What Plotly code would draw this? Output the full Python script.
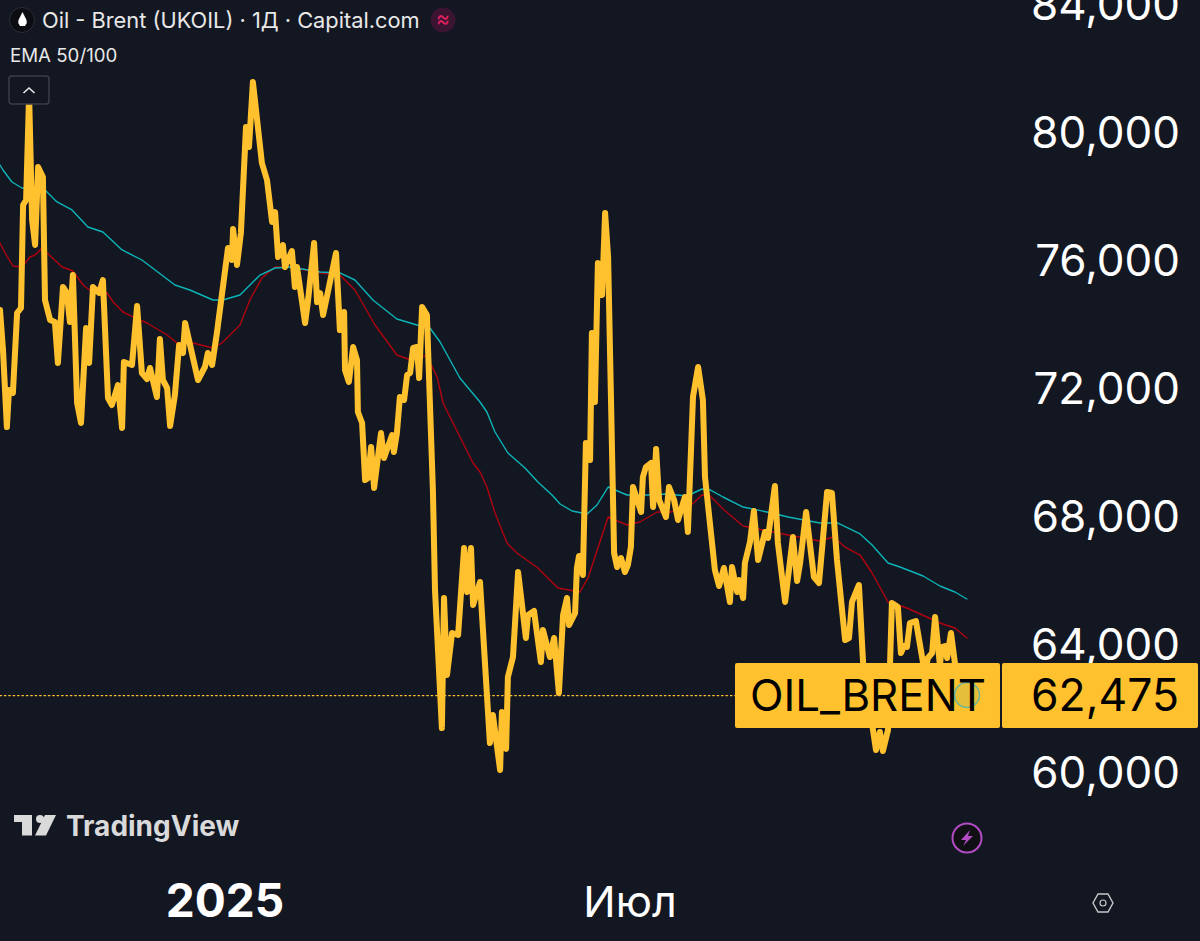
import plotly.graph_objects as go

W, H = 1200, 941
BG = "#131722"
YEL = "#FFC22E"
FONT = "Inter"

# x = bar number, price = close
close_bar = [0,1,2.3,3,4.3,5.7,7,7.7,8.7,9.7,10.7,11.7,12.7,14.3,15,16.7,18.3,19.3,21,22.3,23.3,24.3,25.7,27,28.7,29.7,31,33,34.3,36,37.3,39.3,40.7,41.3,44,45.7,47.3,49,50,52.3,53.3,54.3,55.7,56.7,58.3,59.7,61,61.7,66,68.3,69.3,70.7,72.3,74,75,76,77.3,77.7,79,80.3,82,83,84.3,86,87.3,89,90.7,91.7,92.7,94.3,95,97.3,98.3,99,101.7,102.7,104.7,105.7,106.7,107.7,112,113.3,114.7,115,116.3,117.7,119,119.3,120.7,121.7,122.7,123.7,124.7,127,128,130.7,131.3,132.3,133.3,134.7,135.7,136.7,137.7,139,139.7,140.7,142.3,144.3,145,147.3,148,149,150.7,152.7,154.7,155.7,157,157.7,160,163.3,164.3,166.7,167.3,168.7,169.3,171,172.7,175.3,176,178,180.3,181,183.3,184.7,186.3,187.7,189,189.7,191.7,192.3,193,194.3,195.3,196.7,197.3,198.3,199.3,200.7,201.7,202.7,204,204.7,205.7,207,208.3,209.3,210.3,211,213.7,214.3,215.3,217,217.7,218.7,219.7,222,223,224.7,226,228.3,229.3,231,232.7,234.3,235,235.7,237.3,238.3,239.7,241.3,243.3,244,245.7,246.3,247.7,248.3,250,251.3,252.7,255,256,258.3,259.3,261.7,264.3,265.7,266.7,268.7,271.3,273,275.7,277.3,279,281.7,283,284,286.3,287.7,291,292,293.3,294.3,296,296.7,297.3,299.3,300.3,301.3,302.3,303.3,305.3,307.7,308.3,309.3,310.7,311.7,313.3,314,315,315.7,317,318.3,322]
close_price = [74469,73219,70812,71969,71875,74375,74531,77750,77906,81187,77281,76500,78937,78625,74781,74156,74094,72812,75187,75000,74094,75562,71562,70937,73906,72812,75187,75000,75406,71719,71500,72125,70781,72844,72750,74594,72500,72312,72656,71750,73562,72281,72031,70844,71812,73375,73125,74062,72281,72687,73125,72750,73750,75094,75937,76406,76031,77000,75875,76875,80187,79562,81594,80187,79062,78531,77219,77531,76125,76500,75812,76312,75187,75812,74062,74781,76562,74719,75000,74312,76250,73844,74406,72594,72219,73312,72906,71281,70937,69156,69219,70187,68906,70625,69844,70562,70031,70625,71750,71656,72437,72500,73281,73312,72344,74562,74312,68844,65719,61406,65469,63062,64375,64312,67031,65656,67031,65250,65969,60937,61812,60094,61906,60750,63000,63625,66281,64219,64937,65062,63469,64469,63625,64219,62500,64937,65469,64625,65000,66406,66781,66187,70312,69781,73750,71594,75937,74937,77500,76125,69562,66875,66437,66719,66281,66500,67062,68937,68156,69250,69562,69687,68312,70125,68531,68000,68937,68531,67906,68625,67531,71750,72687,71656,69250,68531,66969,66344,65844,66406,65344,66437,65656,66031,65469,66562,67219,68187,66656,67531,67344,68969,67187,65344,67375,66000,66562,68156,66125,65937,68781,68750,66656,64156,64219,65344,65875,63437,61344,60719,61281,60687,61344,63437,65312,65187,63750,63969,63937,64687,64750,63437,63156,63594,63750,64875,63375,63937,63969,63594,64375,63437,62420]

ema100_bar = [0,1,4,7.3,15,19,24,29.3,34.3,40.7,47.3,58.3,63.3,71,74.3,80,86.7,91.7,96.7,106.7,113.3,118.3,124.3,132.3,139,143.3,146.7,153.3,160,162.3,165,169.3,175,179.3,184,186.7,190.7,195.7,199,202.7,209,215.7,222.3,229,234,236.7,241,247.7,255.7,262.7,273.3,279.3,286.7,290.7,296,300,307.7,313.3,318.3,322.3]
ema100_price = [79000,78844,78469,78281,78219,77844,77594,77062,76906,76344,76031,75250,75094,74781,74781,74937,75562,75781,75812,75656,75625,75406,74781,74187,74000,73906,73469,72344,71594,71281,70656,70000,69531,69094,68687,68406,68187,68094,68375,68937,68687,68687,68719,68656,68875,68844,68625,68312,68156,68000,67812,67812,67469,67125,66562,66437,66156,65844,65656,65437]

ema50_bar = [0,1.7,4.3,7.3,10,11.7,14,17.7,20.7,24.3,27.7,30.7,35.7,37.7,41,44.3,49,55.7,59,64.3,71,74,80,83.3,87.3,91.7,96.7,106.7,113.3,118.3,125,132.3,136,142.3,145.7,147.7,152.3,157.7,160,162.3,165,169,172.3,179.3,186,193.3,196,200,202.7,209,213.3,219,223.3,229.3,234,236.7,241,247.7,255.7,262.7,273.3,277.7,281.7,286.7,290.7,296,302.3,307.7,313.3,318.3,322.3]
ema50_price = [76562,76250,75844,75812,76125,76187,76406,76094,75812,75687,75250,75031,75000,74719,74406,74250,74062,73687,73437,73437,73281,73437,74000,74781,75469,75812,75812,75625,75562,75094,74000,73062,72937,73031,72375,71562,70719,69687,69406,68937,68125,67187,66875,66406,65781,65656,66094,67219,68000,67750,67844,68156,68156,68281,68687,68656,68250,67719,67562,67437,67250,67375,67062,66812,66250,65344,65156,64937,64687,64531,64219]

last_price = [62420, 62420]
last_bar = [0, 322]

price_ticks = [60000, 64000, 68000, 72000, 76000, 80000, 84000]
price_labels = ["60,000", "64,000", "68,000", "72,000", "76,000", "80,000", "84,000"]
time_ticks = [75, 210]
time_labels = ["<span style='font-size:46px'><b>2025</b></span>", "Июл"]

title_text = "Oil - Brent (UKOIL) · 1Д · Capital.com"
indicator_text = "EMA 50/100"
symbol_text = "OIL_BRENT"
last_label = "62,475"
brand_text = "TradingView"


def X(px):
    return px / W


def Y(py):
    return 1 - py / H


def P(a, b):
    return f"{X(a):.5f},{Y(b):.5f}"


def poly(points):
    return "M" + " L".join(P(a, b) for a, b in points) + " Z"


def rrect(x0, y0, x1, y1, r):
    return (f"M{P(x0 + r, y0)} L{P(x1 - r, y0)} Q{P(x1, y0)} {P(x1, y0 + r)} "
            f"L{P(x1, y1 - r)} Q{P(x1, y1)} {P(x1 - r, y1)} "
            f"L{P(x0 + r, y1)} Q{P(x0, y1)} {P(x0, y1 - r)} "
            f"L{P(x0, y0 + r)} Q{P(x0, y0)} {P(x0 + r, y0)} Z")


def paper(**kw):
    return dict(xref="paper", yref="paper", layer="above", **kw)


def circle(cx, cy, r, **kw):
    return paper(type="circle", x0=X(cx - r), x1=X(cx + r), y0=Y(cy - r), y1=Y(cy + r), **kw)


def note(text, px, py, size, color="#FFFFFF", anchor="left", family=FONT):
    return dict(text=text, x=X(px), y=Y(py), xref="paper", yref="paper", xanchor=anchor,
                yanchor="middle", showarrow=False, font=dict(family=family, size=size, color=color),
                borderpad=0)


fig = go.Figure()
fig.add_trace(go.Scatter(x=last_bar, y=last_price, mode="lines",
                         line=dict(color=YEL, width=1.3, dash="1.5px 2.9px"), hoverinfo="skip"))
fig.add_trace(go.Scatter(x=ema50_bar, y=ema50_price, mode="lines",
                         line=dict(color="#B0000F", width=1.4), hoverinfo="skip"))
fig.add_trace(go.Scatter(x=ema100_bar, y=ema100_price, mode="lines",
                         line=dict(color="#0CB4B8", width=1.4), hoverinfo="skip"))
fig.add_trace(go.Scatter(x=close_bar, y=close_price, mode="lines",
                         line=dict(color=YEL, width=6), hoverinfo="skip"))

shapes = [
    # header icons
    circle(22, 20, 12.5, fillcolor="#0B0D12", line=dict(color="#2A2E39", width=1)),
    paper(type="path", path=poly([(22.5, 12), (18.5, 20), (18.2, 23), (20, 26), (25, 26), (26.8, 23), (26.5, 20)]),
          fillcolor="#FFFFFF", line=dict(width=0)),
    circle(443, 20, 12.5, fillcolor="#3A1430", line=dict(width=0)),
    # collapse button
    paper(type="path", path=rrect(9, 76, 49, 104, 3), fillcolor=BG, line=dict(color="#3A3E48", width=1.5)),
    paper(type="path", path=f"M{P(23.5, 93)} L{P(29, 88)} L{P(34.5, 93)}",
          line=dict(color="#E8E8E8", width=1.6)),
    # TradingView mark
    paper(type="path", path=poly([(14, 815), (32, 815), (32, 835.5), (22, 835.5), (22, 822), (14, 822)]),
          fillcolor="#DADADA", line=dict(width=0)),
    circle(40, 819, 4, fillcolor="#DADADA", line=dict(width=0)),
    paper(type="path", path=poly([(45, 815), (56, 815), (46, 835.5), (35, 835.5)]),
          fillcolor="#DADADA", line=dict(width=0)),
    # last price labels
    paper(type="path", path=rrect(735, 663, 1000, 728, 2), fillcolor=YEL, line=dict(width=0)),
    paper(type="path", path=rrect(1002, 663, 1198, 728, 2), fillcolor=YEL, line=dict(width=0)),
    circle(967, 695, 12.5, fillcolor="rgba(210,190,70,0.55)", line=dict(color="#6DB59A", width=1.5)),
    # bolt icon
    circle(967, 838, 14.5, fillcolor="#101014", line=dict(color="#B24BC4", width=2)),
    paper(type="path", path=poly([(970, 830), (961, 840), (966, 840), (963, 846), (973, 836), (968, 836)]),
          fillcolor="#B24BC4", line=dict(width=0)),
    # settings hexagon
    paper(type="path", path=poly([(1098, 894), (1108, 894), (1113, 903), (1108, 912), (1098, 912), (1093, 903)]),
          line=dict(color="#C8C8C8", width=1.4)),
    circle(1103, 903, 3, line=dict(color="#C8C8C8", width=1.2)),
]

annotations = [
    note(title_text, 40.5, 20.5, 21.8, "#E8E8E8"),
    note(indicator_text, 9, 55, 18.7, "#E8E8E8"),
    note("≈", 443, 19, 21, "#E0215F", "center"),
    note(f"<b>{brand_text}</b>", 65, 826, 28, "#DADADA"),
    note(symbol_text, 748.5, 695, 43.8, "#000000"),
    note(last_label, 1180, 695, 44.5, "#000000", "right"),
]

fig.update_layout(
    width=W, height=H, margin=dict(l=0, r=0, t=0, b=0),
    paper_bgcolor=BG, plot_bgcolor=BG, showlegend=False,
    shapes=shapes, annotations=annotations,
    xaxis=dict(range=[0, 400], tickmode="array", tickvals=time_ticks, ticktext=time_labels, automargin=False,
               showgrid=False, zeroline=False, showline=False, ticks="",
               ticklabelposition="inside", ticklabeloverflow="allow", ticklabelstandoff=12,
               tickfont=dict(family=FONT, size=43, color="#FFFFFF")),
    yaxis=dict(range=[54750, 84156], side="right", tickmode="array", tickvals=price_ticks, ticktext=price_labels, automargin=False,
               showgrid=False, zeroline=False, showline=False, ticks="",
               ticklabelposition="inside", ticklabeloverflow="allow", ticklabelstandoff=17,
               tickfont=dict(family=FONT, size=44, color="#FFFFFF")),
)

fig.write_html("out.html", config={"displayModeBar": False},
               post_script="document.body.style.margin='0';"
                           "document.querySelectorAll('.js-line').forEach(function(p){p.style.strokeLinejoin='round';p.style.strokeLinecap='round';});")
